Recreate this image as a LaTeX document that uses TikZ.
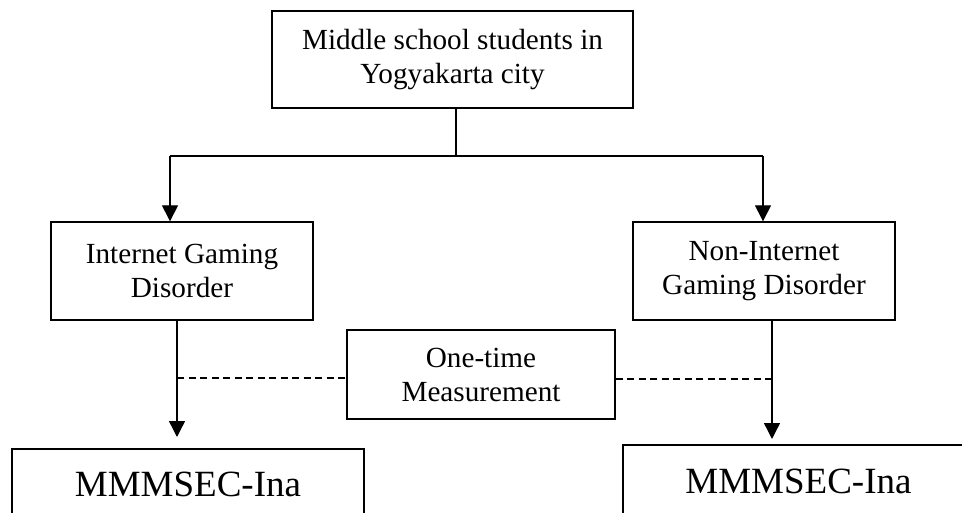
\documentclass[tikz,border=0pt]{standalone}
\usepackage{fontspec}
\setmainfont{Liberation Serif}
\usetikzlibrary{arrows.meta}
\begin{document}
\begin{tikzpicture}[x=1pt,y=-1pt,
  box/.style={draw,line width=1.4pt,align=center,inner sep=0pt,
    font=\fontsize{29.2}{34}\selectfont},
  bigbox/.style={draw,line width=1.4pt,inner sep=0pt,
    font=\fontsize{37}{42}\selectfont},
  conn/.style={line width=1.4pt},
  arr/.style={line width=1.4pt,-{Triangle[length=16pt,width=16pt]}},
  dashline/.style={line width=1.4pt,dash pattern=on 7pt off 4.5pt}]
\useasboundingbox (0,0) rectangle (962,513);
\fill[white] (0,0) rectangle (962,513);
\node[box,minimum width=361pt,minimum height=97pt] (top) at (452.5,59.5)
  {Middle school students in\\Yogyakarta city};
\node[box,minimum width=262pt,minimum height=98pt] (igd) at (182,271)
  {Internet Gaming\\Disorder};
\node[box,minimum width=262pt,minimum height=98pt] (nigd) at (764,271)
  {Non-Internet\\Gaming Disorder};
\node[box,minimum width=268pt,minimum height=89pt] (meas) at (481,374.5)
  {One-time\\Measurement};
\node[bigbox,minimum width=352pt,minimum height=70pt] (mml) at (188,484)
  {MMMSEC-Ina};
\node[bigbox,minimum width=351pt,minimum height=72pt] (mmr) at (798.5,481)
  {MMMSEC-Ina};
\coordinate (split) at (456,156);
\coordinate (jl) at (170,156);
\coordinate (jr) at (763,156);
\coordinate (dl) at (177,378);
\coordinate (dr) at (772,379);
\coordinate (el) at (177,437);
\coordinate (er) at (772,439);
\draw[conn] (top.south -| split) -- (split);
\draw[conn] (jl) -- (jr);
\draw[arr] (jl) -- (jl |- igd.north);
\draw[arr] (jr) -- (jr |- nigd.north);
\draw[arr] (igd.south -| el) -- (el);
\draw[arr] (nigd.south -| er) -- (er);
\draw[dashline] (dl) -- (dl -| meas.west);
\draw[dashline] (dr -| meas.east) -- (dr);
\end{tikzpicture}
\end{document}
